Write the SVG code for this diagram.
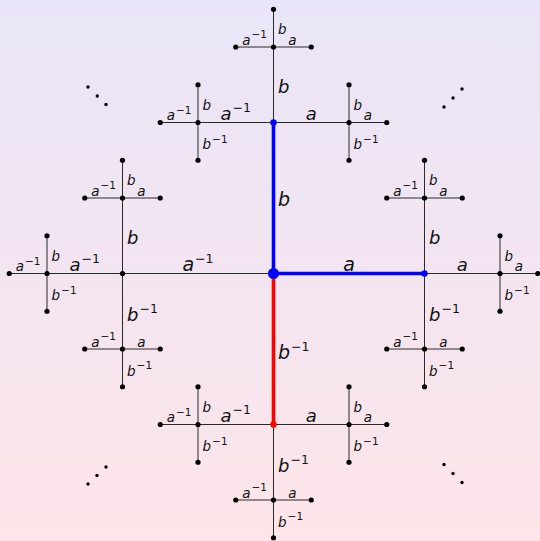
<svg xmlns="http://www.w3.org/2000/svg" width="540" height="541" viewBox="0 0 540 541">
<defs>
<linearGradient id="bg" x1="0" y1="0" x2="0" y2="1">
<stop offset="0" stop-color="#e9e5f8"/>
<stop offset="1" stop-color="#fde5e9"/>
</linearGradient>
<style>
.e{stroke:#2a2a2a;stroke-width:1;fill:none}
.eb{stroke:#0000ff;stroke-width:3.6}
.er{stroke:#ff0000;stroke-width:3.6}
.t{font-family:"DejaVu Sans",sans-serif;font-style:italic;fill:#111}
.t1{font-size:19px}
.t2{font-size:18px}
.t3{font-size:13.5px}
.h{text-anchor:middle}
.s{font-style:normal}
.t1 .s,.t2 .s{font-size:12.5px}
.t3 .s{font-size:10.5px}
.d{fill:#000}
</style>
</defs>
<rect width="540" height="541" fill="url(#bg)"/>
<g id="connectors">
<line class="e" x1="273.5" y1="273.5" x2="424.5" y2="273.5"/>
<line class="e" x1="273.5" y1="273.5" x2="122.5" y2="273.5"/>
<line class="e" x1="273.5" y1="273.5" x2="273.5" y2="122.5"/>
<line class="e" x1="273.5" y1="273.5" x2="273.5" y2="424.5"/>
<line class="e" x1="424.5" y1="273.5" x2="500" y2="273.5"/>
<line class="e" x1="424.5" y1="273.5" x2="424.5" y2="198"/>
<line class="e" x1="424.5" y1="273.5" x2="424.5" y2="349"/>
<line class="e" x1="122.5" y1="273.5" x2="47" y2="273.5"/>
<line class="e" x1="122.5" y1="273.5" x2="122.5" y2="198"/>
<line class="e" x1="122.5" y1="273.5" x2="122.5" y2="349"/>
<line class="e" x1="273.5" y1="122.5" x2="349" y2="122.5"/>
<line class="e" x1="273.5" y1="122.5" x2="198" y2="122.5"/>
<line class="e" x1="273.5" y1="122.5" x2="273.5" y2="47"/>
<line class="e" x1="273.5" y1="424.5" x2="349" y2="424.5"/>
<line class="e" x1="273.5" y1="424.5" x2="198" y2="424.5"/>
<line class="e" x1="273.5" y1="424.5" x2="273.5" y2="500"/>
<line class="e" x1="500" y1="273.5" x2="537.75" y2="273.5"/>
<line class="e" x1="500" y1="273.5" x2="500" y2="235.75"/>
<line class="e" x1="500" y1="273.5" x2="500" y2="311.25"/>
<line class="e" x1="424.5" y1="198" x2="462.25" y2="198"/>
<line class="e" x1="424.5" y1="198" x2="386.75" y2="198"/>
<line class="e" x1="424.5" y1="198" x2="424.5" y2="160.25"/>
<line class="e" x1="424.5" y1="349" x2="462.25" y2="349"/>
<line class="e" x1="424.5" y1="349" x2="386.75" y2="349"/>
<line class="e" x1="424.5" y1="349" x2="424.5" y2="386.75"/>
<line class="e" x1="47" y1="273.5" x2="9.25" y2="273.5"/>
<line class="e" x1="47" y1="273.5" x2="47" y2="235.75"/>
<line class="e" x1="47" y1="273.5" x2="47" y2="311.25"/>
<line class="e" x1="122.5" y1="198" x2="160.25" y2="198"/>
<line class="e" x1="122.5" y1="198" x2="84.75" y2="198"/>
<line class="e" x1="122.5" y1="198" x2="122.5" y2="160.25"/>
<line class="e" x1="122.5" y1="349" x2="160.25" y2="349"/>
<line class="e" x1="122.5" y1="349" x2="84.75" y2="349"/>
<line class="e" x1="122.5" y1="349" x2="122.5" y2="386.75"/>
<line class="e" x1="349" y1="122.5" x2="386.75" y2="122.5"/>
<line class="e" x1="349" y1="122.5" x2="349" y2="84.75"/>
<line class="e" x1="349" y1="122.5" x2="349" y2="160.25"/>
<line class="e" x1="198" y1="122.5" x2="160.25" y2="122.5"/>
<line class="e" x1="198" y1="122.5" x2="198" y2="84.75"/>
<line class="e" x1="198" y1="122.5" x2="198" y2="160.25"/>
<line class="e" x1="273.5" y1="47" x2="311.25" y2="47"/>
<line class="e" x1="273.5" y1="47" x2="235.75" y2="47"/>
<line class="e" x1="273.5" y1="47" x2="273.5" y2="9.25"/>
<line class="e" x1="349" y1="424.5" x2="386.75" y2="424.5"/>
<line class="e" x1="349" y1="424.5" x2="349" y2="386.75"/>
<line class="e" x1="349" y1="424.5" x2="349" y2="462.25"/>
<line class="e" x1="198" y1="424.5" x2="160.25" y2="424.5"/>
<line class="e" x1="198" y1="424.5" x2="198" y2="386.75"/>
<line class="e" x1="198" y1="424.5" x2="198" y2="462.25"/>
<line class="e" x1="273.5" y1="500" x2="311.25" y2="500"/>
<line class="e" x1="273.5" y1="500" x2="235.75" y2="500"/>
<line class="e" x1="273.5" y1="500" x2="273.5" y2="537.75"/>
<line class="eb" x1="273.5" y1="273.5" x2="273.5" y2="122.5"/>
<line class="eb" x1="273.5" y1="273.5" x2="424.5" y2="273.5"/>
<line class="er" x1="273.5" y1="273.5" x2="273.5" y2="424.5"/>
</g>
<g id="edge-labels">
<text class="t t1 h" x="349" y="271">a</text>
<text class="t t1 h" x="198" y="271">a<tspan class="s" dx="1" dy="-8">−1</tspan></text>
<text class="t t1" x="278" y="206">b</text>
<text class="t t1" x="278" y="358.5">b<tspan class="s" dx="1" dy="-8">−1</tspan></text>
<text class="t t2 h" x="462.25" y="271">a</text>
<text class="t t2" x="429" y="243.5">b</text>
<text class="t t2" x="429" y="320.5">b<tspan class="s" dx="1" dy="-8">−1</tspan></text>
<text class="t t2 h" x="84.75" y="271">a<tspan class="s" dx="1" dy="-8">−1</tspan></text>
<text class="t t2" x="127" y="243.5">b</text>
<text class="t t2" x="127" y="320.5">b<tspan class="s" dx="1" dy="-8">−1</tspan></text>
<text class="t t2 h" x="311.25" y="120">a</text>
<text class="t t2 h" x="235.75" y="120">a<tspan class="s" dx="1" dy="-8">−1</tspan></text>
<text class="t t2" x="278" y="92.5">b</text>
<text class="t t2 h" x="311.25" y="422">a</text>
<text class="t t2 h" x="235.75" y="422">a<tspan class="s" dx="1" dy="-8">−1</tspan></text>
<text class="t t2" x="278" y="471.5">b<tspan class="s" dx="1" dy="-8">−1</tspan></text>
<text class="t t3 h" x="518.9" y="271">a</text>
<text class="t t3" x="504.5" y="260.6">b</text>
<text class="t t3" x="504.5" y="300.4">b<tspan class="s" dx="1" dy="-6.5">−1</tspan></text>
<text class="t t3 h" x="443.4" y="195.5">a</text>
<text class="t t3 h" x="405.6" y="195.5">a<tspan class="s" dx="1" dy="-6.5">−1</tspan></text>
<text class="t t3" x="429" y="185.1">b</text>
<text class="t t3 h" x="443.4" y="346.5">a</text>
<text class="t t3 h" x="405.6" y="346.5">a<tspan class="s" dx="1" dy="-6.5">−1</tspan></text>
<text class="t t3" x="429" y="375.9">b<tspan class="s" dx="1" dy="-6.5">−1</tspan></text>
<text class="t t3 h" x="28.1" y="271">a<tspan class="s" dx="1" dy="-6.5">−1</tspan></text>
<text class="t t3" x="51.5" y="260.6">b</text>
<text class="t t3" x="51.5" y="300.4">b<tspan class="s" dx="1" dy="-6.5">−1</tspan></text>
<text class="t t3 h" x="141.4" y="195.5">a</text>
<text class="t t3 h" x="103.6" y="195.5">a<tspan class="s" dx="1" dy="-6.5">−1</tspan></text>
<text class="t t3" x="127" y="185.1">b</text>
<text class="t t3 h" x="141.4" y="346.5">a</text>
<text class="t t3 h" x="103.6" y="346.5">a<tspan class="s" dx="1" dy="-6.5">−1</tspan></text>
<text class="t t3" x="127" y="375.9">b<tspan class="s" dx="1" dy="-6.5">−1</tspan></text>
<text class="t t3 h" x="367.9" y="120">a</text>
<text class="t t3" x="353.5" y="109.6">b</text>
<text class="t t3" x="353.5" y="149.4">b<tspan class="s" dx="1" dy="-6.5">−1</tspan></text>
<text class="t t3 h" x="179.1" y="120">a<tspan class="s" dx="1" dy="-6.5">−1</tspan></text>
<text class="t t3" x="202.5" y="109.6">b</text>
<text class="t t3" x="202.5" y="149.4">b<tspan class="s" dx="1" dy="-6.5">−1</tspan></text>
<text class="t t3 h" x="292.4" y="44.5">a</text>
<text class="t t3 h" x="254.6" y="44.5">a<tspan class="s" dx="1" dy="-6.5">−1</tspan></text>
<text class="t t3" x="278" y="34.1">b</text>
<text class="t t3 h" x="367.9" y="422">a</text>
<text class="t t3" x="353.5" y="411.6">b</text>
<text class="t t3" x="353.5" y="451.4">b<tspan class="s" dx="1" dy="-6.5">−1</tspan></text>
<text class="t t3 h" x="179.1" y="422">a<tspan class="s" dx="1" dy="-6.5">−1</tspan></text>
<text class="t t3" x="202.5" y="411.6">b</text>
<text class="t t3" x="202.5" y="451.4">b<tspan class="s" dx="1" dy="-6.5">−1</tspan></text>
<text class="t t3 h" x="292.4" y="497.5">a</text>
<text class="t t3 h" x="254.6" y="497.5">a<tspan class="s" dx="1" dy="-6.5">−1</tspan></text>
<text class="t t3" x="278" y="526.9">b<tspan class="s" dx="1" dy="-6.5">−1</tspan></text>
</g>
<g id="nodes">
<g id="n-e"><circle cx="273.5" cy="273.5" r="5.5" fill="#0000ff"/></g>
<g id="n-a"><circle cx="424.5" cy="273.5" r="3.2" fill="#0000ff"/></g>
<g id="n-b"><circle cx="273.5" cy="122.5" r="3.2" fill="#0000ff"/></g>
<g id="n-Bi"><circle cx="273.5" cy="424.5" r="3.2" fill="#ff0000"/></g>
<g id="n-Ai"><circle class="d" cx="122.5" cy="273.5" r="2.6"/></g>
<g id="n-aa"><circle class="d" cx="500" cy="273.5" r="2.6"/></g>
<g id="n-ab"><circle class="d" cx="424.5" cy="198" r="2.6"/></g>
<g id="n-aBi"><circle class="d" cx="424.5" cy="349" r="2.6"/></g>
<g id="n-AiAi"><circle class="d" cx="47" cy="273.5" r="2.6"/></g>
<g id="n-Aib"><circle class="d" cx="122.5" cy="198" r="2.6"/></g>
<g id="n-AiBi"><circle class="d" cx="122.5" cy="349" r="2.6"/></g>
<g id="n-ba"><circle class="d" cx="349" cy="122.5" r="2.6"/></g>
<g id="n-bAi"><circle class="d" cx="198" cy="122.5" r="2.6"/></g>
<g id="n-bb"><circle class="d" cx="273.5" cy="47" r="2.6"/></g>
<g id="n-Bia"><circle class="d" cx="349" cy="424.5" r="2.6"/></g>
<g id="n-BiAi"><circle class="d" cx="198" cy="424.5" r="2.6"/></g>
<g id="n-BiBi"><circle class="d" cx="273.5" cy="500" r="2.6"/></g>
<g id="n-aaa"><circle class="d" cx="537.75" cy="273.5" r="2.6"/></g>
<g id="n-aab"><circle class="d" cx="500" cy="235.75" r="2.6"/></g>
<g id="n-aaBi"><circle class="d" cx="500" cy="311.25" r="2.6"/></g>
<g id="n-aba"><circle class="d" cx="462.25" cy="198" r="2.6"/></g>
<g id="n-abAi"><circle class="d" cx="386.75" cy="198" r="2.6"/></g>
<g id="n-abb"><circle class="d" cx="424.5" cy="160.25" r="2.6"/></g>
<g id="n-aBia"><circle class="d" cx="462.25" cy="349" r="2.6"/></g>
<g id="n-aBiAi"><circle class="d" cx="386.75" cy="349" r="2.6"/></g>
<g id="n-aBiBi"><circle class="d" cx="424.5" cy="386.75" r="2.6"/></g>
<g id="n-AiAiAi"><circle class="d" cx="9.25" cy="273.5" r="2.6"/></g>
<g id="n-AiAib"><circle class="d" cx="47" cy="235.75" r="2.6"/></g>
<g id="n-AiAiBi"><circle class="d" cx="47" cy="311.25" r="2.6"/></g>
<g id="n-Aiba"><circle class="d" cx="160.25" cy="198" r="2.6"/></g>
<g id="n-AibAi"><circle class="d" cx="84.75" cy="198" r="2.6"/></g>
<g id="n-Aibb"><circle class="d" cx="122.5" cy="160.25" r="2.6"/></g>
<g id="n-AiBia"><circle class="d" cx="160.25" cy="349" r="2.6"/></g>
<g id="n-AiBiAi"><circle class="d" cx="84.75" cy="349" r="2.6"/></g>
<g id="n-AiBiBi"><circle class="d" cx="122.5" cy="386.75" r="2.6"/></g>
<g id="n-baa"><circle class="d" cx="386.75" cy="122.5" r="2.6"/></g>
<g id="n-bab"><circle class="d" cx="349" cy="84.75" r="2.6"/></g>
<g id="n-baBi"><circle class="d" cx="349" cy="160.25" r="2.6"/></g>
<g id="n-bAiAi"><circle class="d" cx="160.25" cy="122.5" r="2.6"/></g>
<g id="n-bAib"><circle class="d" cx="198" cy="84.75" r="2.6"/></g>
<g id="n-bAiBi"><circle class="d" cx="198" cy="160.25" r="2.6"/></g>
<g id="n-bba"><circle class="d" cx="311.25" cy="47" r="2.6"/></g>
<g id="n-bbAi"><circle class="d" cx="235.75" cy="47" r="2.6"/></g>
<g id="n-bbb"><circle class="d" cx="273.5" cy="9.25" r="2.6"/></g>
<g id="n-Biaa"><circle class="d" cx="386.75" cy="424.5" r="2.6"/></g>
<g id="n-Biab"><circle class="d" cx="349" cy="386.75" r="2.6"/></g>
<g id="n-BiaBi"><circle class="d" cx="349" cy="462.25" r="2.6"/></g>
<g id="n-BiAiAi"><circle class="d" cx="160.25" cy="424.5" r="2.6"/></g>
<g id="n-BiAib"><circle class="d" cx="198" cy="386.75" r="2.6"/></g>
<g id="n-BiAiBi"><circle class="d" cx="198" cy="462.25" r="2.6"/></g>
<g id="n-BiBia"><circle class="d" cx="311.25" cy="500" r="2.6"/></g>
<g id="n-BiBiAi"><circle class="d" cx="235.75" cy="500" r="2.6"/></g>
<g id="n-BiBiBi"><circle class="d" cx="273.5" cy="537.75" r="2.6"/></g>
</g>
<g id="ellipses" class="d">
<circle cx="88" cy="87" r="1.7"/><circle cx="97.3" cy="96" r="1.7"/><circle cx="106" cy="104.5" r="1.7"/>
<circle cx="462" cy="89" r="1.7"/><circle cx="453" cy="98" r="1.7"/><circle cx="444" cy="107" r="1.7"/>
<circle cx="88" cy="484" r="1.7"/><circle cx="97" cy="475.5" r="1.7"/><circle cx="106" cy="467" r="1.7"/>
<circle cx="444" cy="464.5" r="1.7"/><circle cx="453" cy="473.5" r="1.7"/><circle cx="462" cy="482.5" r="1.7"/>
</g>
</svg>
